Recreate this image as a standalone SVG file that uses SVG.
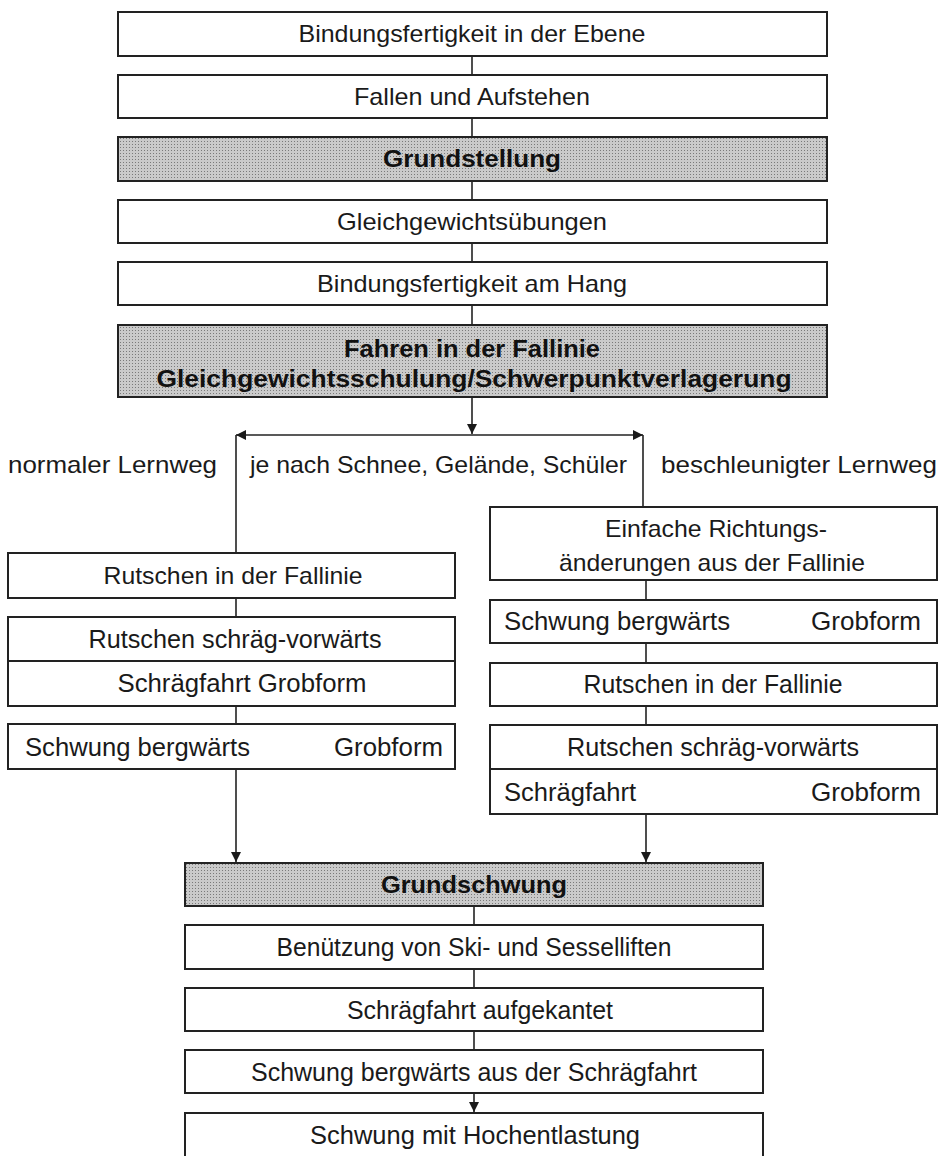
<svg xmlns="http://www.w3.org/2000/svg" width="947" height="1156" viewBox="0 0 947 1156">
<defs>
<pattern id="screen" width="3" height="3" patternUnits="userSpaceOnUse">
<rect width="3" height="3" fill="#cacaca"/>
<rect width="1" height="1" fill="#7a7a7a"/>
</pattern>
<marker id="ah" viewBox="0 0 10 10" refX="10" refY="5" markerWidth="10" markerHeight="11" markerUnits="userSpaceOnUse" orient="auto">
<path d="M0,0 L10,5 L0,10 z" fill="#1a1a1a"/>
</marker>
</defs>
<style>
.box{fill:#fff;stroke:#222;stroke-width:2}
.shade{fill:url(#screen);stroke:#222;stroke-width:2}
.ln{stroke:#222;stroke-width:1.6;fill:none}
.arr{stroke:#222;stroke-width:1.6;fill:none;marker-end:url(#ah)}
text{font-family:"Liberation Sans",Arial,sans-serif;font-size:24px;fill:#1a1a1a}
.s{font-size:25px}
.L{font-size:26px}
.c{text-anchor:middle}
.b{font-weight:bold;font-size:24px;fill:#111}
</style>
<rect width="947" height="1156" fill="#fff"/>
<g id="connectors">
<line class="ln" x1="472" y1="56" x2="472" y2="75"/>
<line class="ln" x1="472" y1="118" x2="472" y2="137"/>
<line class="ln" x1="472" y1="181" x2="472" y2="200"/>
<line class="ln" x1="472" y1="243" x2="472" y2="262"/>
<line class="ln" x1="472" y1="305" x2="472" y2="325"/>
<line class="arr" x1="472" y1="397" x2="472" y2="434"/>
<line class="arr" x1="440" y1="435" x2="236" y2="435"/>
<line class="arr" x1="440" y1="435" x2="643" y2="435"/>
<line class="ln" x1="236" y1="435" x2="236" y2="553"/>
<line class="ln" x1="643" y1="435" x2="643" y2="507"/>
<line class="ln" x1="236" y1="598" x2="236" y2="617"/>
<line class="ln" x1="236" y1="706" x2="236" y2="724"/>
<line class="arr" x1="236" y1="769" x2="236" y2="862"/>
<line class="ln" x1="646" y1="580" x2="646" y2="600"/>
<line class="ln" x1="646" y1="643" x2="646" y2="663"/>
<line class="ln" x1="646" y1="706" x2="646" y2="725"/>
<line class="arr" x1="646" y1="814" x2="646" y2="862"/>
<line class="ln" x1="474" y1="906" x2="474" y2="925"/>
<line class="ln" x1="474" y1="969" x2="474" y2="988"/>
<line class="ln" x1="474" y1="1031" x2="474" y2="1050"/>
<line class="arr" x1="474" y1="1093" x2="474" y2="1112"/>
</g>
<g id="n1"><rect class="box" x="118" y="12" width="709" height="44"/><text class="c" x="472" y="42" textLength="347" lengthAdjust="spacingAndGlyphs">Bindungsfertigkeit in der Ebene</text></g>
<g id="n2"><rect class="box" x="118" y="75" width="709" height="43"/><text class="c" x="472" y="105" textLength="236" lengthAdjust="spacingAndGlyphs">Fallen und Aufstehen</text></g>
<g id="n3"><rect class="shade" x="118" y="137" width="709" height="44"/><text class="c b" x="472" y="167" textLength="178" lengthAdjust="spacingAndGlyphs">Grundstellung</text></g>
<g id="n4"><rect class="box" x="118" y="200" width="709" height="43"/><text class="c" x="472" y="230" textLength="270" lengthAdjust="spacingAndGlyphs">Gleichgewichtsübungen</text></g>
<g id="n5"><rect class="box" x="118" y="262" width="709" height="43"/><text class="c" x="472" y="292" textLength="310" lengthAdjust="spacingAndGlyphs">Bindungsfertigkeit am Hang</text></g>
<g id="n6"><rect class="shade" x="118" y="325" width="709" height="72"/><text class="c b" x="472" y="357" textLength="256" lengthAdjust="spacingAndGlyphs">Fahren in der Fallinie</text><text class="c b" x="474" y="387" textLength="635" lengthAdjust="spacingAndGlyphs">Gleichgewichtsschulung/Schwerpunktverlagerung</text></g>
<g id="labels">
<text x="8" y="473" textLength="209" lengthAdjust="spacingAndGlyphs">normaler Lernweg</text>
<text x="250" y="473" textLength="377" lengthAdjust="spacingAndGlyphs">je nach Schnee, Gelände, Schüler</text>
<text x="661" y="473" textLength="276" lengthAdjust="spacingAndGlyphs">beschleunigter Lernweg</text>
</g>
<g id="l1"><rect class="box" x="8" y="553" width="447" height="45"/><text class="c" x="233" y="584" textLength="259" lengthAdjust="spacingAndGlyphs">Rutschen in der Fallinie</text></g>
<g id="l2"><rect class="box" x="8" y="617" width="447" height="89"/><line x1="8" y1="661" x2="455" y2="661" stroke="#222" stroke-width="2"/><text class="c s" x="235" y="648" textLength="293" lengthAdjust="spacingAndGlyphs">Rutschen schräg-vorwärts</text><text class="c s" x="242" y="692" textLength="249" lengthAdjust="spacingAndGlyphs">Schrägfahrt Grobform</text></g>
<g id="l3"><rect class="box" x="8" y="724" width="447" height="45"/><text class="s" x="25" y="756" textLength="225" lengthAdjust="spacingAndGlyphs">Schwung bergwärts</text><text class="s" x="334" y="756" textLength="109" lengthAdjust="spacingAndGlyphs">Grobform</text></g>
<g id="r1"><rect class="box" x="490" y="507" width="447" height="73"/><text class="c" x="716" y="537" textLength="222" lengthAdjust="spacingAndGlyphs">Einfache Richtungs-</text><text class="c" x="712" y="571" textLength="306" lengthAdjust="spacingAndGlyphs">änderungen aus der Fallinie</text></g>
<g id="r2"><rect class="box" x="490" y="600" width="447" height="43"/><text class="s" x="504" y="630" textLength="226" lengthAdjust="spacingAndGlyphs">Schwung bergwärts</text><text class="s" x="811" y="630" textLength="110" lengthAdjust="spacingAndGlyphs">Grobform</text></g>
<g id="r3"><rect class="box" x="490" y="663" width="447" height="43"/><text class="c s" x="713" y="693" textLength="259" lengthAdjust="spacingAndGlyphs">Rutschen in der Fallinie</text></g>
<g id="r4"><rect class="box" x="490" y="725" width="447" height="89"/><line x1="490" y1="769" x2="937" y2="769" stroke="#222" stroke-width="2"/><text class="c s" x="713" y="756" textLength="292" lengthAdjust="spacingAndGlyphs">Rutschen schräg-vorwärts</text><text class="s" x="504" y="801" textLength="132" lengthAdjust="spacingAndGlyphs">Schrägfahrt</text><text class="s" x="811" y="801" textLength="110" lengthAdjust="spacingAndGlyphs">Grobform</text></g>
<g id="g1"><rect class="shade" x="185" y="863" width="578" height="43"/><text class="c b" x="474" y="893" textLength="186" lengthAdjust="spacingAndGlyphs">Grundschwung</text></g>
<g id="g2"><rect class="box" x="185" y="925" width="578" height="44"/><text class="c L" x="474" y="956" textLength="395" lengthAdjust="spacingAndGlyphs">Benützung von Ski- und Sesselliften</text></g>
<g id="g3"><rect class="box" x="185" y="988" width="578" height="43"/><text class="c L" x="480" y="1019" textLength="266" lengthAdjust="spacingAndGlyphs">Schrägfahrt aufgekantet</text></g>
<g id="g4"><rect class="box" x="185" y="1050" width="578" height="43"/><text class="c L" x="474" y="1081" textLength="446" lengthAdjust="spacingAndGlyphs">Schwung bergwärts aus der Schrägfahrt</text></g>
<g id="g5"><rect class="box" x="185" y="1113" width="578" height="50"/><text class="c L" x="475" y="1144" textLength="330" lengthAdjust="spacingAndGlyphs">Schwung mit Hochentlastung</text></g>
</svg>
